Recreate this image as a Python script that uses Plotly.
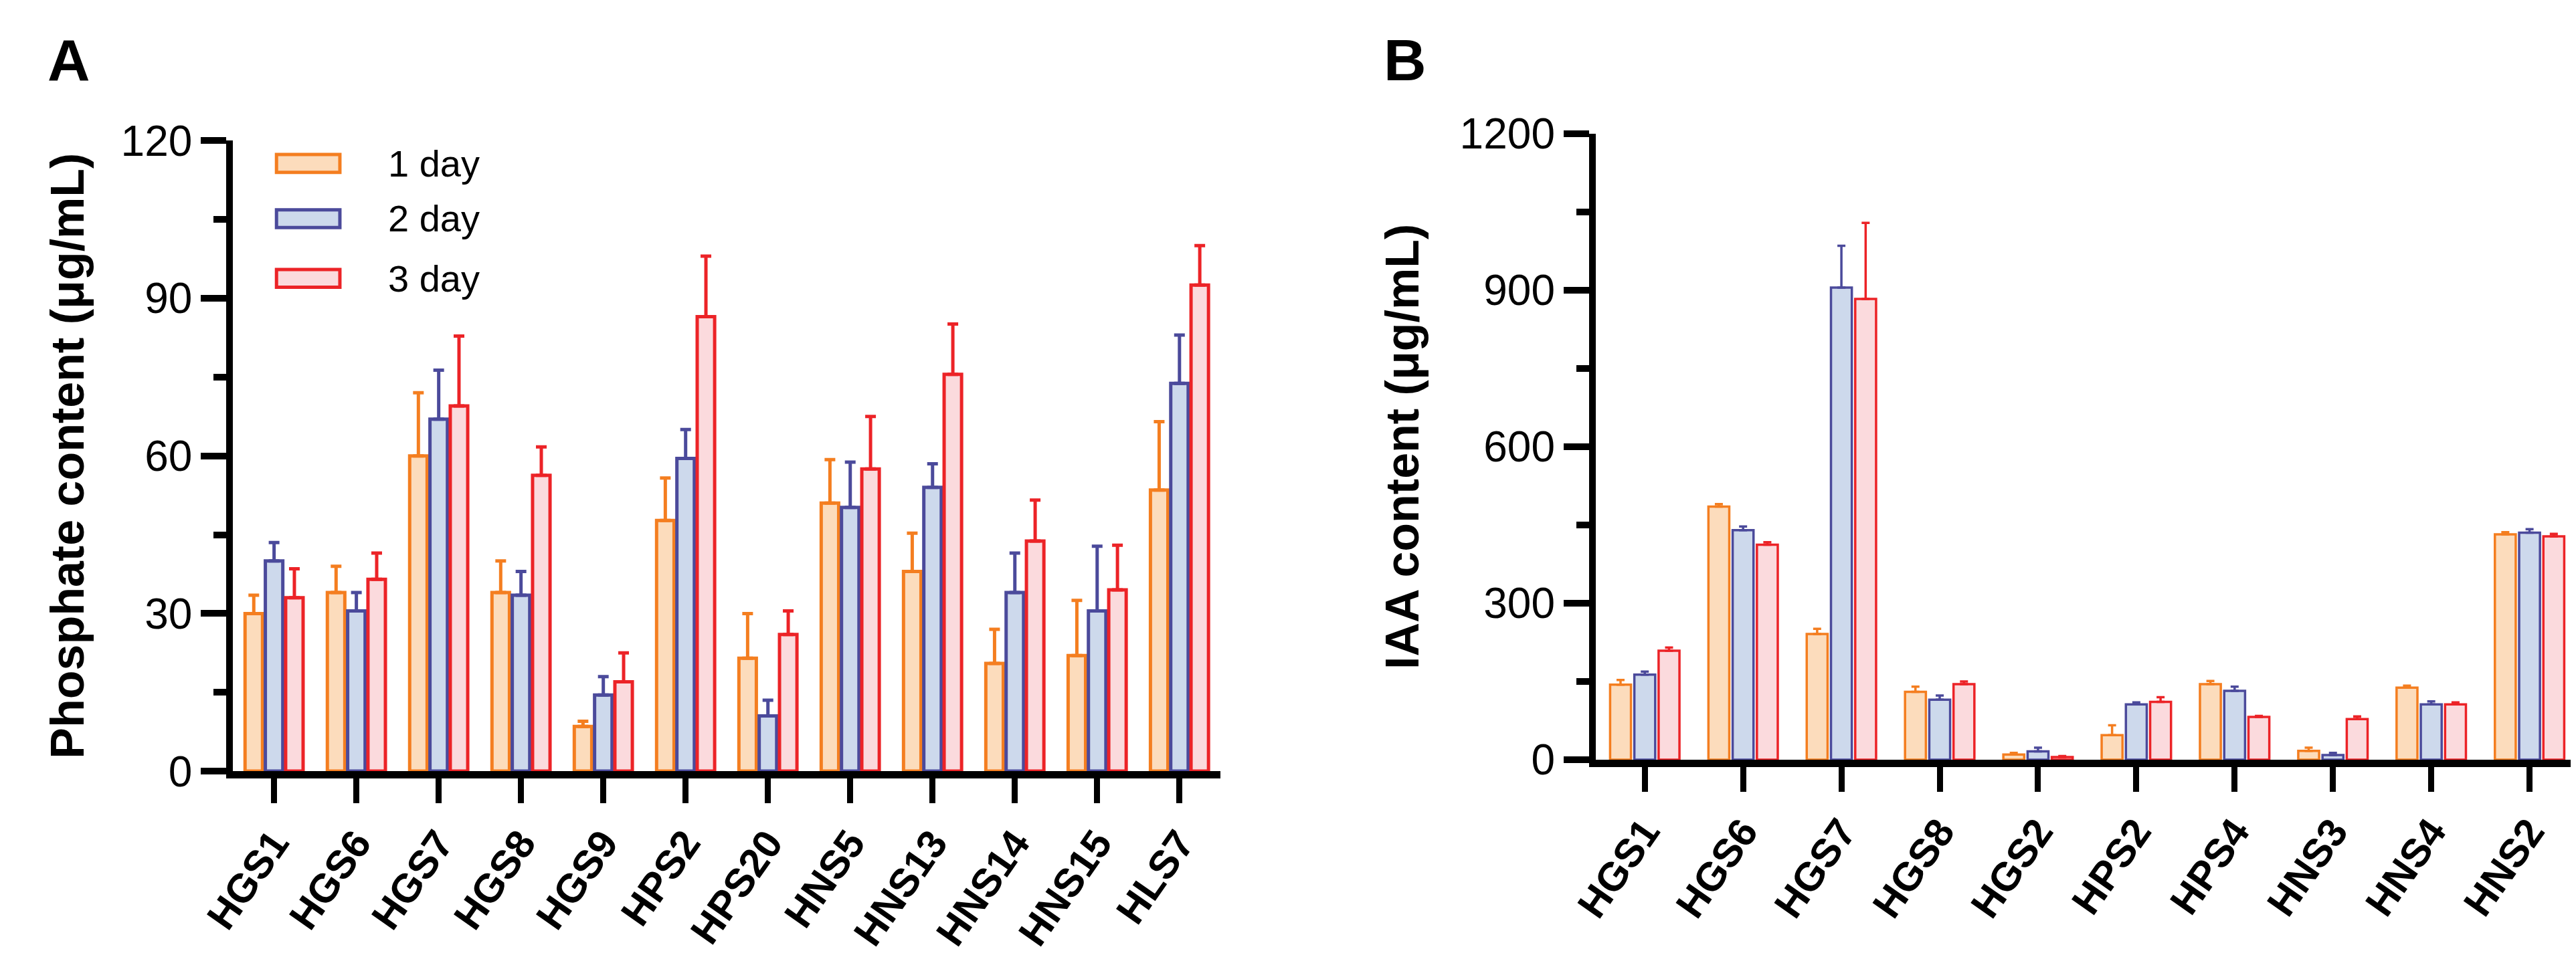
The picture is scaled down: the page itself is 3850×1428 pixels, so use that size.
import plotly.graph_objects as go

# ---------------------------------------------------------
# data (mean value and top of the error bar)
strains_a = ['HGS1', 'HGS6', 'HGS7', 'HGS8', 'HGS9', 'HPS2', 'HPS20',
             'HNS5', 'HNS13', 'HNS14', 'HNS15', 'HLS7']
pho_day1 = [30, 34, 60, 34, 8.5, 47.7, 21.5, 51, 38, 20.5, 22, 53.5]
pho_day1_top = [33.5, 39, 72, 40, 9.5, 55.8, 30, 59.3, 45.3, 27, 32.5, 66.5]
pho_day2 = [40, 30.5, 67, 33.5, 14.5, 59.5, 10.5, 50.2, 54, 34, 30.5, 73.8]
pho_day2_top = [43.5, 34, 76.3, 38, 18, 65, 13.5, 58.8, 58.5, 41.5, 42.8, 83]
pho_day3 = [33, 36.5, 69.5, 56.3, 17, 86.5, 26, 57.5, 75.5, 43.8, 34.5, 92.5]
pho_day3_top = [38.5, 41.5, 82.8, 61.7, 22.5, 98, 30.5, 67.5, 85.1, 51.6, 43, 100]

strains_b = ['HGS1', 'HGS6', 'HGS7', 'HGS8', 'HGS2', 'HPS2', 'HPS4',
             'HNS3', 'HNS4', 'HNS2']
iaa_day1 = [144, 485, 241, 130, 10, 47, 145, 17, 138, 432]
iaa_day1_top = [153, 490, 251, 140, 13, 66, 151, 23, 142, 436]
iaa_day2 = [163, 440, 905, 115, 16, 106, 132, 9, 106, 435]
iaa_day2_top = [169, 447, 985, 123, 23, 110, 140, 13, 112, 442]
iaa_day3 = [209, 412, 883, 145, 5, 111, 82, 78, 106, 428]
iaa_day3_top = [215, 417, 1029, 150, 7, 120, 84, 83, 110, 433]

day_names = ['1 day', '2 day', '3 day']
# ---------------------------------------------------------
W, H = 3850, 1428
FONT = 'Arial, Liberation Sans, sans-serif'
line_col = ['#F47E20', '#4B4A9B', '#EC2327']
fill_col = ['#FCDCBC', '#CDD9EC', '#FBDADD']

fig = go.Figure()

# panel A: phosphate
pho = [(pho_day1, pho_day1_top), (pho_day2, pho_day2_top), (pho_day3, pho_day3_top)]
for k, (m, top) in enumerate(pho):
    fig.add_trace(go.Bar(x=strains_a, y=m, name=day_names[k], showlegend=False,
                         marker=dict(color=fill_col[k], line=dict(color=line_col[k], width=5)),
                         error_y=dict(type='data', symmetric=False,
                                      array=[t - v for t, v in zip(top, m)],
                                      arrayminus=[0] * len(m),
                                      color=line_col[k], thickness=5, width=8),
                         xaxis='x', yaxis='y'))

# panel B: IAA
iaa = [(iaa_day1, iaa_day1_top), (iaa_day2, iaa_day2_top), (iaa_day3, iaa_day3_top)]
for k, (m, top) in enumerate(iaa):
    fig.add_trace(go.Bar(x=strains_b, y=m, name=day_names[k], showlegend=False,
                         marker=dict(color=fill_col[k], line=dict(color=line_col[k], width=3.5)),
                         error_y=dict(type='data', symmetric=False,
                                      array=[t - v for t, v in zip(top, m)],
                                      arrayminus=[0] * len(m),
                                      color=line_col[k], thickness=3.5, width=6),
                         xaxis='x2', yaxis='y2'))

# axes
def xdict(domain, anchor):
    return dict(domain=domain, anchor=anchor, showline=True, linecolor='black', linewidth=11,
                ticks='outside', ticklen=37, tickwidth=9, tickcolor='black',
                tickangle=-55, tickfont=dict(family=FONT, size=60, color='black', weight='bold'),
                showgrid=False, zeroline=False)

def ydict(domain, anchor, rng, step, title, standoff):
    return dict(domain=domain, anchor=anchor, range=rng, dtick=step, tick0=0,
                showline=True, linecolor='black', linewidth=10,
                ticks='outside', ticklen=38, tickwidth=10, tickcolor='black',
                minor=dict(dtick=step / 2, ticks='outside', ticklen=19, tickwidth=10,
                           tickcolor='black'),
                tickfont=dict(family=FONT, size=64, color='black'),
                title=dict(text=title, standoff=standoff,
                           font=dict(family=FONT, size=70, color='black', weight='bold')),
                showgrid=False, zeroline=False)

fig.update_layout(
    xaxis=xdict([293 / W, 1789 / W], 'y'),
    yaxis=ydict([1 - 1168 / H, 1 - 175 / H], 'x', [0, 120], 30,
                'Phosphate content (μg/mL)', 36),
    xaxis2=xdict([2357 / W, 3846 / W], 'y2'),
    yaxis2=ydict([1 - 1150 / H, 1 - 164 / H], 'x2', [0, 1200], 300,
                 'IAA content (μg/mL)', 42),
    barmode='group', bargap=0.26, bargroupgap=0.14,
    plot_bgcolor='white', paper_bgcolor='white',
    margin=dict(l=0, r=0, t=0, b=0), autosize=False, width=W, height=H,
    showlegend=False)

# hand-made legend inside panel A
leg_y = [211, 298, 392]
for k in range(3):
    fig.add_shape(type='rect', xref='paper', yref='paper',
                  x0=359 / W, x1=455 / W, y0=1 - (leg_y[k] + 14) / H, y1=1 - (leg_y[k] - 14) / H,
                  fillcolor=fill_col[k], line=dict(color=line_col[k], width=5))
    fig.add_annotation(text=day_names[k], xref='paper', yref='paper', x=526 / W,
                       y=1 - leg_y[k] / H, xanchor='left', yanchor='middle', showarrow=False,
                       font=dict(family=FONT, size=56, color='black'))

# panel letters
for letter, xpos in [('A', 10), ('B', 2034)]:
    fig.add_annotation(text=letter, xref='paper', yref='paper', x=xpos / W, y=1.0,
                       xanchor='left', yanchor='top', showarrow=False, yshift=6,
                       font=dict(family=FONT, size=88, color='black', weight='bold'))

fig.write_html("out.html")
